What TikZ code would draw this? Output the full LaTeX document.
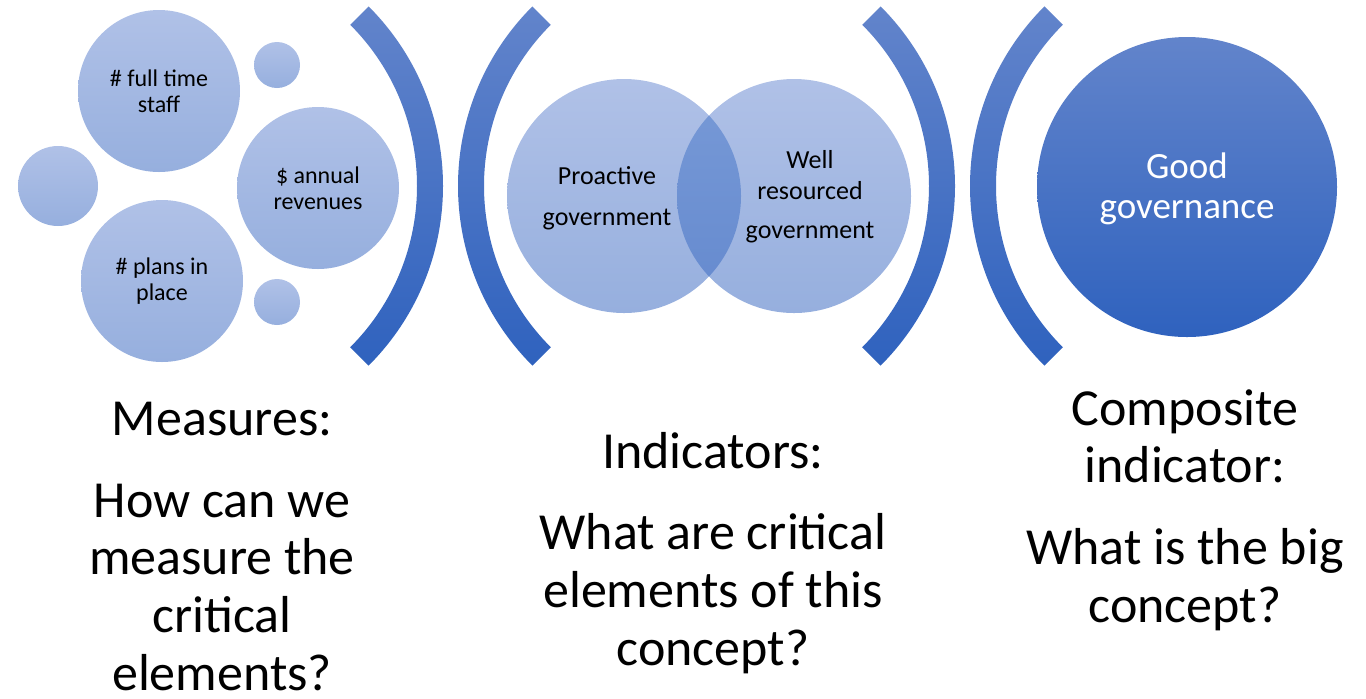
\documentclass[tikz,border=0pt]{standalone}
\usepackage{fontspec}
\setmainfont{Carlito}
\usetikzlibrary{positioning,calc}
\definecolor{PaleTop}{RGB}{176,193,231}
\definecolor{PaleBottom}{RGB}{150,175,222}
\definecolor{OverlapTop}{RGB}{120,154,215}
\definecolor{OverlapBottom}{RGB}{100,137,206}
\definecolor{DeepTop}{RGB}{98,132,203}
\definecolor{DeepBottom}{RGB}{47,98,190}
\tikzset{
  bubble/.style={circle,inner sep=0pt,top color=PaleTop,bottom color=PaleBottom,
    align=center,font=\fontsize{12pt}{13pt}\selectfont},
  bigbubble/.style={circle,inner sep=0pt,top color=DeepTop,bottom color=DeepBottom,
    align=center,text=white,font=\fontsize{18.5pt}{20pt}\selectfont},
  vennlabel/.style={align=center,anchor=base,font=\fontsize{13pt}{20.5pt}\selectfont},
  caption/.style={align=center,anchor=base,font=\fontsize{26pt}{28.8pt}\selectfont},
  bracket/.style={top color=DeepTop,bottom color=DeepBottom}
}
% thick curved bracket: centre, start angle, end angle
\newcommand{\curvebracket}[3]{%
  \shade[bracket] ([shift={(#2:127pt)}]#1) arc[start angle=#2,end angle=#3,radius=127pt]
    -- ([shift={(#3:114pt)}]#1) arc[start angle=#3,end angle=#2,radius=114pt] -- cycle;}

\begin{document}
\begin{tikzpicture}[x=0.5pt,y=-0.5pt]
  \useasboundingbox (0,0) rectangle (1366,698);

  % measures
  \node[bubble,minimum size=81pt] (fulltime) at (159,91) {\# full time\\staff};
  \node[bubble,minimum size=81pt] (revenues) at (318,188) {\$ annual\\revenues};
  \node[bubble,minimum size=81pt] (plans) at (162,281) {\# plans in\\place};
  \node[bubble,minimum size=40pt] (dotleft) at (58,186) {};
  \node[bubble,minimum size=23pt] (dottop) at (277,65) {};
  \node[bubble,minimum size=23pt] (dotbottom) at (277,302) {};

  % brackets
  \coordinate (arcA) at (189,186);
  \coordinate (arcB) at (712,186);
  \coordinate (arcC) at (701,186);
  \coordinate (arcD) at (1224,186);
  \curvebracket{arcA}{-45}{45}
  \curvebracket{arcB}{135}{225}
  \curvebracket{arcC}{-45}{45}
  \curvebracket{arcD}{135}{225}

  % indicators
  \node[bubble,minimum size=117pt] (proactive) at (624,196) {};
  \node[bubble,minimum size=117pt] (resourced) at (794,196) {};
  \begin{scope}
    \clip (proactive.center) circle[radius=58.5pt];
    \shade[top color=OverlapTop,bottom color=OverlapBottom] (resourced.center) circle[radius=58.5pt];
  \end{scope}
  \node[vennlabel] (proactivetxt) at (607,225) {Proactive\\government};
  \node[vennlabel,font=\fontsize{13pt}{15.5pt}\selectfont] (resourcedtxt) at (810,238)
    {Well\\resourced\\[4pt]government};

  % composite
  \node[bigbubble,minimum size=150pt] (governance) at (1187,187) {};
  \node[vennlabel,text=white,font=\fontsize{18.5pt}{20pt}\selectfont] (governancetxt)
    at (1187,218) {Good\\governance};

  % captions (anchored on the last line)
  \node[caption] (measures) at (222,690)
    {Measures:\\[12pt]How can we\\measure the\\critical\\elements?};
  \node[caption] (indicators) at (713,665)
    {Indicators:\\[12pt]What are critical\\elements of this\\concept?};
  \node[caption] (composite) at (1185,622)
    {Composite\\indicator:\\[12pt]What is the big\\concept?};
\end{tikzpicture}
\end{document}
